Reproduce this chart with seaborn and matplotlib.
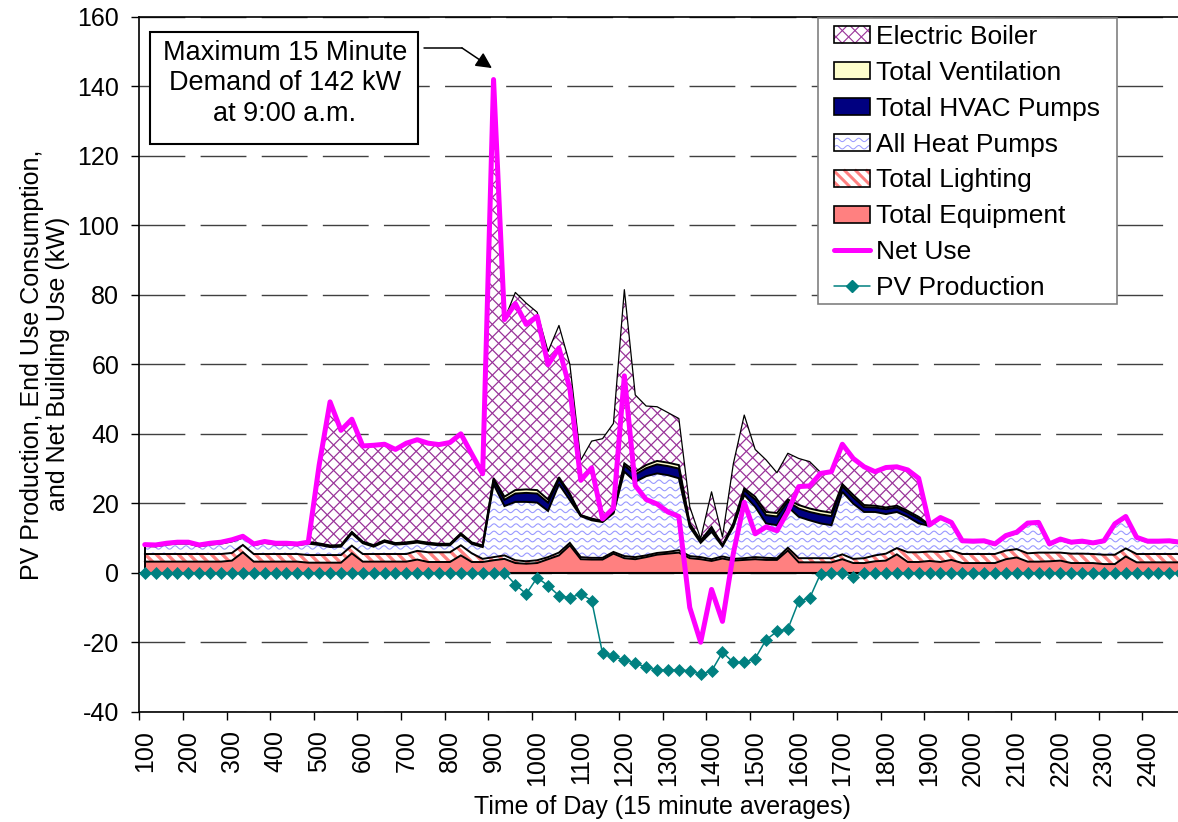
import numpy as np
import matplotlib
matplotlib.use("Agg")
import matplotlib.pyplot as plt
import seaborn as sns
from matplotlib.patches import Rectangle, Patch
from matplotlib.lines import Line2D
from matplotlib.collections import LineCollection
from matplotlib.legend_handler import HandlerBase

# ---------------------------------------------------------------------------
# Data: 15-minute average demand (kW), 1:00 through 24:45
# ---------------------------------------------------------------------------
hour_labels = ["100", "200", "300", "400", "500", "600", "700", "800", "900",
               "1000", "1100", "1200", "1300", "1400", "1500", "1600", "1700",
               "1800", "1900", "2000", "2100", "2200", "2300", "2400"]

total_equipment = [
    3.2, 3.2, 3.2, 3.2, 3.2, 3.2, 3.2, 3.2, 3.5, 5.9, 3.2, 3.2, 3.2, 3.2, 3.2, 2.9,
    2.9, 2.9, 2.9, 5.6, 3.2, 3.2, 3.2, 3.2, 3.2, 3.8, 3.1, 3.1, 3.1, 5.0, 3.1, 3.1,
    3.6, 4.0, 2.8, 2.6, 2.8, 3.9, 5.0, 7.9, 3.9, 3.8, 3.8, 5.5, 4.2, 3.9, 4.5, 5.2,
    5.5, 5.8, 4.2,
    3.9, 3.4, 4.1, 3.5, 3.7, 3.9, 3.7, 3.7, 6.4, 3.0, 3.0, 3.0, 3.0, 3.9, 2.8, 2.8,
    3.3, 3.5, 5.3, 3.1, 3.1, 3.4,
    3.1, 3.7, 2.8, 2.8, 2.8, 2.8, 3.9, 4.4, 3.2, 3.2, 3.3, 3.5, 2.8, 2.8, 2.8, 2.5,
    2.5, 4.7, 3.0, 3.0, 3.0, 3.0, 3.0]

total_lighting = [
    2.2, 2.2, 2.2, 2.2, 2.2, 2.2, 2.2, 2.2, 2.2, 2.1, 2.2, 2.2, 2.2, 2.2, 2.2, 2.2,
    2.2, 2.2, 2.2, 2.2, 2.2, 2.2, 2.2, 2.2, 2.2, 2.5, 2.8, 2.8, 2.8, 2.9, 2.5, 0.9,
    0.9, 1.0, 0.8, 0.7, 0.8, 0.6, 0.8, 0.7, 0.6, 0.5, 0.5, 0.5, 0.6, 0.6, 0.5, 0.5,
    0.5, 0.7, 0.6,
    0.6, 0.5, 0.6, 0.5, 0.5, 0.6, 0.6, 0.5, 0.8, 1.2, 1.2, 1.2, 1.2, 1.4, 1.2, 1.4,
    1.7, 2.0, 1.8, 2.8, 2.8, 2.7,
    2.9, 2.7, 2.6, 2.6, 2.6, 2.6, 2.5, 2.4, 2.4, 2.6, 2.5, 2.3, 2.7, 2.7, 2.6, 2.7,
    2.7, 2.3, 2.4, 2.4, 2.4, 2.4, 2.4]

all_heat_pumps = [
    2.3, 2.2, 2.7, 3.0, 3.0, 2.2, 2.7, 3.0, 3.3, 2.1, 2.5, 3.2, 2.7, 2.7, 2.5, 3.3,
    2.9, 2.3, 2.4, 3.5, 3.1, 2.1, 3.5, 2.7, 2.9, 2.4, 2.3, 2.0, 2.0, 3.0, 2.7, 3.4,
    21.0, 14.2, 16.8, 17.1, 16.6, 13.3, 19.7, 12.3, 11.8, 10.8, 10.3, 11.1, 24.3,
    21.7, 22.8, 22.9, 22.1, 20.7, 8.4,
    4.1, 7.9, 2.9, 9.2, 18.2, 14.5, 9.9, 9.5, 11.8, 11.9, 10.9, 10.0, 9.5, 18.0,
    15.9, 13.3, 12.5, 11.4, 10.4, 10.2, 8.3, 7.4,
    9.6, 7.8, 3.5, 3.4, 3.5, 2.6, 4.0, 4.6, 8.4, 8.4, 2.2, 3.6, 3.0, 3.3, 2.9, 3.7,
    8.6, 8.9, 4.5, 3.4, 3.4, 3.5, 3.1]

total_hvac_pumps = (
    [0.3] * 32
    + [1.2, 1.8, 2.4, 2.6, 2.6, 2.4, 1.5, 1.4, 0.2, 0.3, 0.2, 0.3, 1.8, 2.1, 2.3,
       2.6, 2.6, 2.8, 0.7]
    + [0.5, 1.0, 0.2, 0.7, 1.4, 2.1, 2.4, 2.5, 1.5, 2.4, 2.4, 2.6, 2.6, 1.6, 1.8,
       1.4, 1.3, 1.4, 1.3, 1.2, 1.4, 0.2]
    + [0.2] * 23)

total_ventilation = (
    [0.15] * 32
    + [0.5, 0.9, 1.0, 1.0, 1.0, 0.9, 0.5, 0.5, 0.1, 0.2, 0.1, 0.1, 0.6, 0.8, 0.9,
       1.0, 1.0, 1.0, 0.3]
    + [0.2, 0.4, 0.1, 0.3, 0.5, 0.8, 0.9, 1.0, 0.6, 1.0, 1.0, 1.0, 1.0, 0.6, 0.7,
       0.6, 0.5, 0.5, 0.5, 0.5, 0.5, 0.1]
    + [0.1] * 23)

electric_boiler = (
    [0.0] * 16
    + [22.6, 41.4, 33.1, 32.5, 27.6, 28.8, 27.7, 27.0, 28.6, 29.2, 28.7, 28.6, 29.2,
       28.7, 25.5, 20.7]
    + [114.8, 51.1, 56.9, 53.6, 51.2, 42.6, 43.7, 37.2, 15.8, 22.3, 23.7, 25.5,
       50.0, 22.1, 17.0, 15.6, 14.4, 13.4, 4.8]
    + [0.5, 10.1, 2.4, 17.2, 21.1, 13.6, 15.0, 11.6, 13.3, 13.4, 13.5, 11.1, 11.8,
       11.5, 10.5, 11.0, 9.8, 11.5, 11.2, 11.8, 11.1, 0.0]
    + [0.0] * 23)

net_use = [
    8.1, 8.0, 8.5, 8.8, 8.8, 8.0, 8.5, 8.8, 9.5, 10.5, 8.3, 9.0, 8.5, 8.5, 8.3, 8.8,
    31.0, 49.2, 41.0, 44.2, 36.5, 36.7, 37.0, 35.5, 37.3, 38.3, 37.3, 36.9, 37.5,
    40.0, 34.2, 28.5,
    142.0, 72.9, 77.5, 71.5, 73.8, 59.9, 64.7, 53.0, 26.6, 30.2, 15.5, 18.6, 56.7,
    25.1, 21.1, 19.8, 17.5, 16.2, -10.0,
    -20.0, -4.8, -14.0, 5.6, 20.3, 11.2, 13.2, 12.1, 17.6, 24.8, 25.0, 28.6, 29.1,
    37.0, 32.9, 30.5, 29.1, 30.3, 30.5, 29.6, 27.2, 13.8,
    15.9, 14.5, 9.2, 9.1, 9.2, 8.3, 10.7, 11.7, 14.3, 14.5, 8.3, 9.7, 8.8, 9.1,
    8.6, 9.2, 14.1, 16.2, 10.2, 9.1, 9.1, 9.2, 8.8]

pv_production = (
    [0.0] * 34
    + [-3.4, -6.1, -1.4, -3.7, -6.6, -7.2, -6.1, -8.0, -23.2, -24.1, -25.1, -26.0,
       -27.2, -28.0, -28.0, -28.0, -28.2, -29.2, -28.3, -22.9, -25.8, -25.8, -24.7,
       -19.3, -16.9, -16.2, -8.2, -7.3, -0.3, 0.0, 0.0, -1.2]
    + [0.0] * 30)

series = [total_equipment, total_lighting, all_heat_pumps, total_hvac_pumps,
          total_ventilation, electric_boiler, net_use, pv_production]
assert all(len(s) == 96 for s in series), [len(s) for s in series]

# ---------------------------------------------------------------------------
# Styling
# ---------------------------------------------------------------------------
W_PX, H_PX = 1178, 822
AX_LEFT, AX_RIGHT, AX_TOP, AX_BOTTOM = 139.3, 1185.7, 17.0, 711.7
FS = 18
FS_LEG = 19
FS_NOTE = 19.5

sns.set_theme(style="white")
plt.rcParams["font.family"] = ["Liberation Sans", "DejaVu Sans"]
plt.rcParams.update({
    "axes.unicode_minus": False,
    "text.color": "black",
    "axes.labelcolor": "black",
    "xtick.color": "black",
    "ytick.color": "black",
    "axes.edgecolor": "black",
})

COL_EQUIP = "#FF8080"
COL_HVAC = "#000080"
COL_VENT = "#FFFFCC"
COL_NET = "#FF00FF"
COL_PV = "#008080"

BOILER_STYLE = dict(kind="cross", spacing=12.7, color="#993399", lw=0.9)
LIGHT_STYLE = dict(kind="back", spacing=11.0, color="#FF8080", lw=2.4)
HEAT_STYLE = dict(kind="wave", spacing=7.3, wavelength=11.0, amp=1.7,
                  color="#9999FF", lw=0.8)


def clip_segment(x0, y0, x1, y1, xmin, xmax, ymin, ymax):
    dx, dy = x1 - x0, y1 - y0
    t0, t1 = 0.0, 1.0
    for p, q in ((-dx, x0 - xmin), (dx, xmax - x0), (-dy, y0 - ymin), (dy, ymax - y0)):
        if p == 0:
            if q < 0:
                return None
        else:
            t = q / p
            if p < 0:
                if t > t1:
                    return None
                t0 = max(t0, t)
            else:
                if t < t0:
                    return None
                t1 = min(t1, t)
    return np.array([[x0 + t0 * dx, y0 + t0 * dy], [x0 + t1 * dx, y0 + t1 * dy]])


def pattern_polylines(style, w, h, unit):
    """Pattern strokes inside a w x h box; `unit` = box units per pixel."""
    lines = []
    if style["kind"] in ("cross", "back"):
        sp = style["spacing"] * unit
        dirs = [1, -1] if style["kind"] == "cross" else [-1]
        for d in dirs:
            for c in np.arange(-h - sp, w + h + sp, sp):
                if d > 0:
                    seg = clip_segment(c, 0, c + h, h, 0, w, 0, h)
                else:
                    seg = clip_segment(c, 0, c - h, h, 0, w, 0, h)
                if seg is not None:
                    lines.append(seg)
    else:
        sp = style["spacing"] * unit
        lam = style["wavelength"] * unit
        amp = style["amp"] * unit
        xs = np.linspace(0, w, max(int(w / unit * 2), 20))
        for y0 in np.arange(sp / 2, h, sp):
            ys = np.clip(y0 + amp * np.sin(2 * np.pi * xs / lam), 0, h)
            lines.append(np.column_stack([xs, ys]))
    return lines


fig = plt.figure(figsize=(W_PX / 100, H_PX / 100), dpi=100)
ax = fig.add_axes([AX_LEFT / W_PX, 1 - AX_BOTTOM / H_PX,
                   (AX_RIGHT - AX_LEFT) / W_PX, (AX_BOTTOM - AX_TOP) / H_PX])

n = len(net_use)
x = np.arange(n)
XMIN, XMAX, YMIN, YMAX = -0.5, n - 0.5, -40, 160
ax.set_xlim(XMIN, XMAX)
ax.set_ylim(YMIN, YMAX)

p0 = ax.transData.transform((0, 0))
p1 = ax.transData.transform((1, 1))
sx, sy = p1[0] - p0[0], p1[1] - p0[1]
ax_w_px = (XMAX - XMIN) * sx
ax_h_px = (YMAX - YMIN) * sy

# Stacked end-use layers
c1 = np.array(total_equipment)
c2 = c1 + np.array(total_lighting)
c3 = c2 + np.array(all_heat_pumps)
c4 = c3 + np.array(total_hvac_pumps)
c5 = c4 + np.array(total_ventilation)
c6 = c5 + np.array(electric_boiler)
zero = np.zeros(n)


def solid_band(lower, upper, color, z):
    ax.fill_between(x, lower, upper, facecolor=color, edgecolor="none",
                    linewidth=0, zorder=z)


def patterned_band(lower, upper, style, z):
    band = ax.fill_between(x, lower, upper, facecolor="white", edgecolor="none",
                           linewidth=0, zorder=z)
    strokes = pattern_polylines(style, ax_w_px, ax_h_px, 1.0)
    segs = [np.column_stack([XMIN + s[:, 0] / sx, YMIN + s[:, 1] / sy]) for s in strokes]
    lc = LineCollection(segs, colors=style["color"], linewidths=style["lw"],
                        zorder=z + 0.01)
    ax.add_collection(lc, autolim=False)
    lc.set_clip_path(band.get_paths()[0], ax.transData)


solid_band(zero, c1, COL_EQUIP, 2.0)
patterned_band(c1, c2, LIGHT_STYLE, 2.1)
patterned_band(c2, c3, HEAT_STYLE, 2.2)
solid_band(c3, c4, COL_HVAC, 2.3)
solid_band(c4, c5, COL_VENT, 2.4)
patterned_band(c5, c6, BOILER_STYLE, 2.5)

for top in (c1, c2, c3, c4, c5):
    ax.plot(x, top, color="black", lw=1.4, zorder=3, solid_joinstyle="miter")
ax.plot(x, c6, color="black", lw=0.9, zorder=3)
ax.plot([x[0], x[0]], [0, c6[0]], color="black", lw=1.4, zorder=3)
ax.axhline(0, color="black", lw=1.5, zorder=3)

# Line series
sns.lineplot(x=x, y=pv_production, ax=ax, color=COL_PV, linewidth=1.1,
             marker="D", markersize=6, markeredgecolor=COL_PV,
             markeredgewidth=0.5, zorder=4, legend=False)
sns.lineplot(x=x, y=net_use, ax=ax, color=COL_NET, linewidth=3.6,
             solid_joinstyle="round", solid_capstyle="round", zorder=5,
             legend=False)

# Axes, ticks, grid
ax.set_xlim(XMIN, XMAX)
ax.set_ylim(YMIN, YMAX)
ax.set_yticks(np.arange(-40, 161, 20))
ax.yaxis.grid(True, color="#404040", linewidth=1.0, linestyle=(0, (33, 11)))
ax.xaxis.grid(False)
ax.set_axisbelow(True)
ax.tick_params(axis="y", which="major", left=True, direction="out", length=5.5,
               width=1.0, pad=9, labelsize=FS)

ax.set_xticks(np.arange(XMIN, XMAX + 0.01, 4))
ax.set_xticklabels([])
ax.set_xticks(np.arange(0, n, 4), minor=True)
ax.set_xticklabels(hour_labels, minor=True)
ax.tick_params(axis="x", which="major", bottom=True, direction="out", length=5.5,
               width=1.0)
ax.tick_params(axis="x", which="minor", bottom=True, length=0, pad=13.5,
               labelsize=FS, labelrotation=90)

for side in ("left", "top", "bottom"):
    ax.spines[side].set_visible(True)
    ax.spines[side].set_color("black")
    ax.spines[side].set_linewidth(1.2)
ax.spines["right"].set_visible(False)

ax.set_xlabel("Time of Day (15 minute averages)", fontsize=FS)
ax.xaxis.set_label_coords(0.5, -0.12)
ax.set_ylabel("PV Production, End Use Consumption,\nand Net Building Use (kW)",
              fontsize=FS, linespacing=1.1, va="center")
ax.yaxis.set_label_coords(-0.090, 0.5)

# Peak demand callout
ax.add_patch(Rectangle((0.0102, 0.8172), 0.2561, 0.1612, transform=ax.transAxes,
                       facecolor="white", edgecolor="black", linewidth=1.5,
                       zorder=6))
ax.text(0.1392, 0.9043, "Maximum 15 Minute\nDemand of 142 kW\nat 9:00 a.m.",
        transform=ax.transAxes, ha="center", va="center", fontsize=FS_NOTE,
        linespacing=1.24, zorder=7)
peak_i = int(np.argmax(net_use))
peak_v = net_use[peak_i]
tip = (peak_i - 0.15, peak_v + 3.3)
bend = (peak_i - 2.9, peak_v + 9.1)
start = (peak_i - 6.4, peak_v + 9.1)
ax.plot([start[0], bend[0]], [start[1], bend[1]], color="black", lw=1.1, zorder=7)
ax.annotate("", xy=tip, xytext=bend,
            arrowprops=dict(arrowstyle="-|>,head_length=0.6,head_width=0.3",
                            color="black", lw=1.1, shrinkA=0, shrinkB=0,
                            mutation_scale=16),
            zorder=7)


# Legend
class PatternSwatch(HandlerBase):
    def __init__(self, style):
        super().__init__()
        self.style = style

    def create_artists(self, legend, orig_handle, xdescent, ydescent, width,
                       height, fontsize, trans):
        x0, y0 = -xdescent, -ydescent
        unit = 72.0 / fig.dpi
        arts = [Rectangle((x0, y0), width, height, facecolor="white",
                          edgecolor="none", transform=trans)]
        for s in pattern_polylines(self.style, width, height, unit):
            arts.append(Line2D(x0 + s[:, 0], y0 + s[:, 1], color=self.style["color"],
                               lw=self.style["lw"] * 0.9, transform=trans,
                               solid_capstyle="butt"))
        arts.append(Rectangle((x0, y0), width, height, facecolor="none",
                              edgecolor="black", linewidth=1.2, transform=trans))
        return arts


h_boiler = Patch()
h_vent = Patch(facecolor=COL_VENT, edgecolor="black", linewidth=1.2)
h_hvac = Patch(facecolor=COL_HVAC, edgecolor="black", linewidth=1.2)
h_heat = Patch()
h_light = Patch()
h_equip = Patch(facecolor=COL_EQUIP, edgecolor="black", linewidth=1.2)
h_net = Line2D([], [], color=COL_NET, lw=3.6)
h_pv = Line2D([], [], color=COL_PV, lw=1.1, marker="D", markersize=6)

# legend frame (white box with grey border)
LEG_L, LEG_T, LEG_R, LEG_B = 818, 18, 1117, 304
fig.add_artist(Rectangle((LEG_L / W_PX, 1 - LEG_B / H_PX),
                         (LEG_R - LEG_L) / W_PX, (LEG_B - LEG_T) / H_PX,
                         transform=fig.transFigure, facecolor="white",
                         edgecolor="#808080", linewidth=1.2, zorder=9))

leg = fig.legend(
    [h_boiler, h_vent, h_hvac, h_heat, h_light, h_equip, h_net, h_pv],
    ["Electric Boiler", "Total Ventilation", "Total HVAC Pumps", "All Heat Pumps",
     "Total Lighting", "Total Equipment", "Net Use", "PV Production"],
    handler_map={h_boiler: PatternSwatch(BOILER_STYLE),
                 h_heat: PatternSwatch(HEAT_STYLE),
                 h_light: PatternSwatch(LIGHT_STYLE)},
    loc="upper left", bbox_to_anchor=(834 / W_PX, 1 - 25 / H_PX),
    bbox_transform=fig.transFigure, fontsize=FS_LEG, frameon=False,
    borderpad=0, labelspacing=0.45, handlelength=1.36, handleheight=0.62,
    handletextpad=0.23, borderaxespad=0, numpoints=1)
leg.set_zorder(10)

fig.savefig("out.png", dpi=100)
